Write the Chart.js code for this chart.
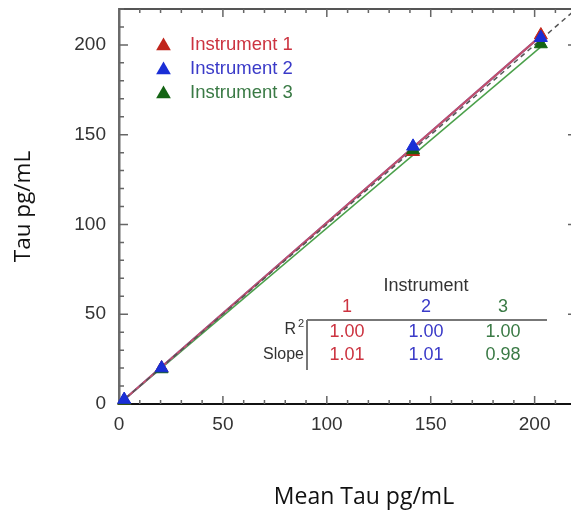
<!DOCTYPE html>
<html>
<head>
<meta charset="utf-8">
<script src="https://cdn.jsdelivr.net/npm/chart.js@4.4.1/dist/chart.umd.min.js"></script>
<style>
  html, body { margin: 0; padding: 0; background: #fff; overflow: hidden; }
  #wrap { width: 571px; height: 513px; position: relative; }
</style>
</head>
<body>
<div id="wrap"><canvas id="tauChart"></canvas></div>
<script>
const instruments = ["Instrument 1", "Instrument 2", "Instrument 3"];
const meanTau = [2.5, 20.5, 141.5, 203];
const tauInst1 = [2, 20, 140.5, 205.5];
const tauInst2 = [2.5, 20, 143.5, 204];
const tauInst3 = [2, 19.5, 141.5, 200.5];
const fitSlopes = [1.01, 1.01, 0.98];
const fitR2 = ["1.00", "1.00", "1.00"];
const fitSlopeText = ["1.01", "1.01", "0.98"];
const fitRange = [0, 203];
const identityRange = [0, 230];
const xTickValues = [0, 50, 100, 150, 200];
const yTickValues = [0, 50, 100, 150, 200];

const textColors = ["#cc3340", "#3a3ac8", "#3a7a45"];
const markColors = ["#c0251c", "#1a2ed6", "#146414"];
const lineColors = ["#c2506a", "#5a5ad0", "#4aa04a"];

const toPoints = (xs, ys) => xs.map((x, i) => ({ x, y: ys[i] }));
const fitLine = (slope) => fitRange.map((x) => ({ x, y: x * slope }));

const pointSet = (idx, ys) => ({
  type: "scatter",
  label: instruments[idx],
  data: toPoints(meanTau, ys),
  pointStyle: "triangle",
  pointRadius: 7.5,
  pointHoverRadius: 7.5,
  backgroundColor: markColors[idx],
  borderColor: markColors[idx],
  borderWidth: 1,
  clip: false
});

const lineSet = (idx) => ({
  type: "line",
  label: "fit " + instruments[idx],
  data: fitLine(fitSlopes[idx]),
  borderColor: lineColors[idx],
  borderWidth: idx === 2 ? 1.5 : 2,
  pointRadius: 0,
  fill: false
});

const font = "'Liberation Sans', Arial, sans-serif";
const titleFont = "'Open Sans', sans-serif";

// inward tick marks + top border, like the original plot frame
const frameTicks = {
  id: "frameTicks",
  afterDraw(chart) {
    const { ctx, chartArea: a, scales: { x, y } } = chart;
    ctx.save();
    ctx.strokeStyle = "#555";
    ctx.lineWidth = 2;
    ctx.beginPath();
    ctx.moveTo(a.left, a.top);
    ctx.lineTo(a.right, a.top);
    ctx.stroke();

    ctx.strokeStyle = "#666";
    ctx.lineWidth = 1.5;
    ctx.beginPath();
    for (let v = 10; v <= x.max; v += 10) {
      const px = x.getPixelForValue(v);
      const len = v % 50 === 0 ? 8 : 4;
      ctx.moveTo(px, a.bottom);
      ctx.lineTo(px, a.bottom - len);
      ctx.moveTo(px, a.top);
      ctx.lineTo(px, a.top + len);
    }
    for (let v = 10; v <= y.max; v += 10) {
      const py = y.getPixelForValue(v);
      const len = v % 50 === 0 ? 9 : 5;
      ctx.moveTo(a.left, py);
      ctx.lineTo(a.left + len, py);
      if (v % 50 === 0) {
        ctx.moveTo(a.right, py);
        ctx.lineTo(a.right - 3, py);
      }
    }
    ctx.stroke();
    ctx.restore();
  }
};

const triangle = (ctx, cx, cy, r, color) => {
  ctx.fillStyle = color;
  ctx.beginPath();
  ctx.moveTo(cx, cy - r);
  ctx.lineTo(cx + r * 0.866, cy + r * 0.5);
  ctx.lineTo(cx - r * 0.866, cy + r * 0.5);
  ctx.closePath();
  ctx.fill();
};

// legend at upper left, the R²/slope table at lower right, x title
const insets = {
  id: "insets",
  afterDraw(chart) {
    const { ctx, chartArea: a } = chart;
    ctx.save();
    ctx.textBaseline = "middle";

    ctx.font = "18.5px " + font;
    instruments.forEach((name, i) => {
      const cy = a.top + 36 + i * 24;
      triangle(ctx, a.left + 44.5, cy + 1, 8.5, markColors[i]);
      ctx.fillStyle = textColors[i];
      ctx.textAlign = "left";
      ctx.fillText(name, a.left + 71, cy);
    });

    const cols = [347, 426, 503];
    ctx.font = "18px " + font;
    ctx.textAlign = "center";
    ctx.fillStyle = "#333";
    ctx.fillText("Instrument", 426, 286);
    cols.forEach((cx, i) => {
      ctx.fillStyle = textColors[i];
      ctx.fillText(String(i + 1), cx, 307);
      ctx.fillText(fitR2[i], cx, 332);
      ctx.fillText(fitSlopeText[i], cx, 355);
    });

    ctx.strokeStyle = "#777";
    ctx.lineWidth = 2;
    ctx.beginPath();
    ctx.moveTo(307, 320);
    ctx.lineTo(547, 320);
    ctx.moveTo(307, 320);
    ctx.lineTo(307, 370);
    ctx.stroke();

    ctx.fillStyle = "#333";
    ctx.textAlign = "right";
    ctx.font = "16px " + font;
    ctx.fillText("Slope", 304, 355);
    ctx.fillText("R", 296, 330);
    ctx.font = "11px " + font;
    ctx.fillText("2", 304, 324);

    // x axis title sits right of the plot centre in the original
    ctx.fillStyle = "#111";
    ctx.textAlign = "center";
    ctx.font = "23px " + titleFont;
    ctx.fillText("Mean Tau pg/mL", 364, 497);
    ctx.restore();
  }
};

const setTicks = (values) => (s) => { s.ticks = values.map((value) => ({ value })); };

new Chart(document.getElementById("tauChart"), {
  data: {
    datasets: [
      pointSet(1, tauInst2),
      pointSet(2, tauInst3),
      pointSet(0, tauInst1),
      {
        type: "line",
        label: "identity",
        data: identityRange.map((v) => ({ x: v, y: v })),
        borderColor: "#555",
        borderWidth: 1.5,
        borderDash: [5, 4],
        pointRadius: 0,
        fill: false
      },
      lineSet(0),
      lineSet(1),
      lineSet(2)
    ]
  },
  options: {
    responsive: true,
    maintainAspectRatio: false,
    animation: false,
    layout: { autoPadding: false, padding: { top: 9, left: 0, right: 0, bottom: 0 } },
    plugins: {
      legend: { display: false },
      tooltip: { enabled: false }
    },
    scales: {
      x: {
        type: "linear",
        position: "bottom",
        min: 0,
        max: 217.5,
        afterBuildTicks: setTicks(xTickValues),
        afterFit: (s) => { s.height = 109; s.paddingLeft = 0; s.paddingRight = 0; },
        ticks: { padding: 9, color: "#333", font: { family: font, size: 19 } },
        grid: { display: false, drawTicks: false },
        border: { display: true, color: "#111", width: 2 },
        title: { display: false, text: "Mean Tau pg/mL" }
      },
      y: {
        type: "linear",
        min: 0,
        max: 220,
        afterBuildTicks: setTicks(yTickValues),
        afterFit: (s) => { s.width = 119; s.paddingTop = 0; s.paddingBottom = 0; },
        ticks: { padding: 13, color: "#333", font: { family: font, size: 19 } },
        grid: { display: false, drawTicks: false },
        border: { display: true, color: "#6a6a6a", width: 2.5 },
        title: {
          display: true,
          text: "Tau pg/mL",
          color: "#111",
          font: { family: titleFont, size: 22.5 },
          padding: { top: 10, bottom: 0 }
        }
      }
    }
  },
  plugins: [frameTicks, insets]
});
</script>
</body>
</html>
